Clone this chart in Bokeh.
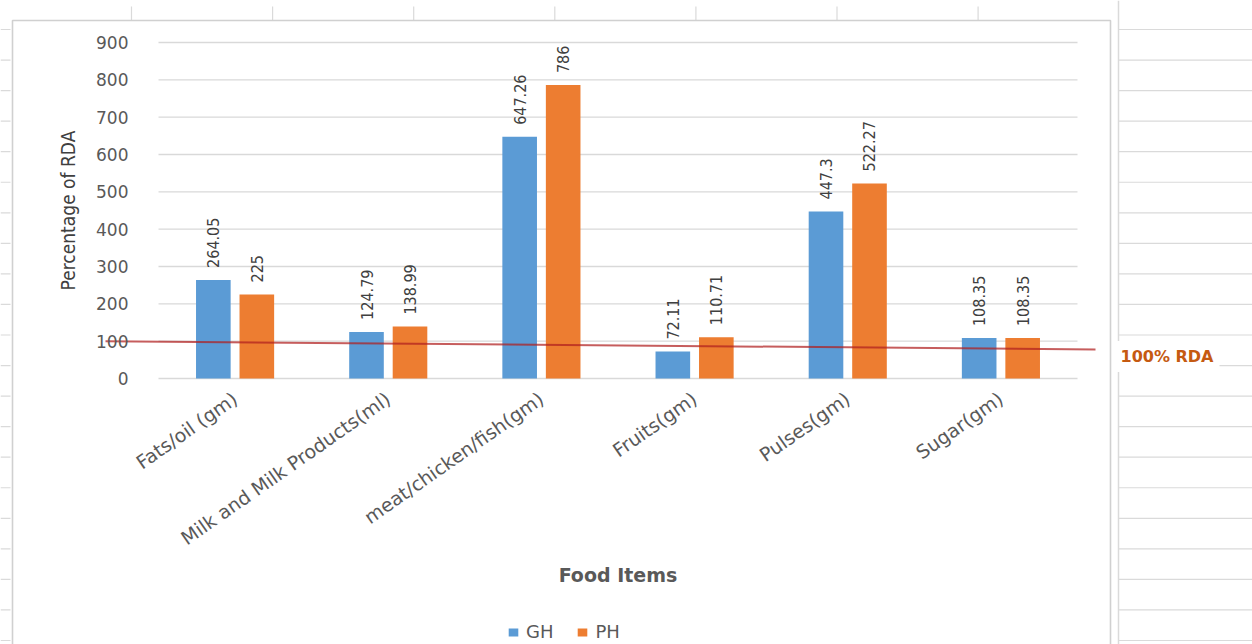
from math import pi

from bokeh.core.properties import value
from bokeh.embed import file_html
from bokeh.models import FixedTicker, Label, Legend, LegendItem, LinearAxis
from bokeh.plotting import figure
from bokeh.resources import INLINE

# ---- data -------------------------------------------------------------
categories = [
    "Fats/oil (gm)",
    "Milk and Milk Products(ml)",
    "meat/chicken/fish(gm)",
    "Fruits(gm)",
    "Pulses(gm)",
    "Sugar(gm)",
]
series_names = ["GH", "PH"]
gh_values = [264.05, 124.79, 647.26, 72.11, 447.3, 108.35]
ph_values = [225, 138.99, 786, 110.71, 522.27, 108.35]
y_ticks = [0, 100, 200, 300, 400, 500, 600, 700, 800, 900]
rda_line = [100, 78]          # reference line level at its left and right ends
rda_label = "100% RDA"
y_title = "Percentage of RDA"
x_title = "Food Items"

# ---- page geometry (pixels) ------------------------------------------
W, H = 1252, 644
PLOT_LEFT, PLOT_RIGHT = 158, 1077
ZERO_PY, TOP_PY = 378, 42
n = len(categories)
CAT_PX = (PLOT_RIGHT - PLOT_LEFT) / n
UNIT_PX = (ZERO_PY - TOP_PY) / y_ticks[-1]


def xd(px):
    return (px - PLOT_LEFT) / CAT_PX


def yd(py):
    return (ZERO_PY - py) / UNIT_PX


BLUE, ORANGE = "#5B9BD5", "#ED7D31"
GRID = "#D9D9D9"
SHEET = "#DADADA"
TICK_TXT = "#595959"
LABEL_TXT = "#404040"
NARROW = "'DejaVu Sans Condensed', 'Liberation Sans', sans-serif"

p = figure(
    width=W, height=H,
    x_range=(xd(0), xd(W)), y_range=(yd(H), yd(0)),
    x_axis_type=None, y_axis_type=None,
    output_backend="svg", toolbar_location=None,
    min_border=0, outline_line_color=None,
    background_fill_color="white", border_fill_color="white",
)

# ---- worksheet cells around the chart --------------------------------
row_py = [29 + 30.55 * i for i in range(21)]
col_px = [131 + 141.1 * i for i in range(7)]
p.segment(x0=[xd(1118)] * len(row_py), x1=[xd(W)] * len(row_py),
          y0=[yd(r) for r in row_py], y1=[yd(r) for r in row_py],
          line_color=SHEET, line_width=1.2)
p.segment(x0=[xd(0)] * len(row_py), x1=[xd(10)] * len(row_py),
          y0=[yd(r) for r in row_py], y1=[yd(r) for r in row_py],
          line_color=SHEET, line_width=1.2)
p.segment(x0=[xd(c) for c in col_px], x1=[xd(c) for c in col_px],
          y0=[yd(6)] * len(col_px), y1=[yd(20)] * len(col_px),
          line_color=SHEET, line_width=1.2)
p.segment(x0=[xd(1118)], x1=[xd(1118)], y0=[yd(0)], y1=[yd(H)],
          line_color=SHEET, line_width=1.5)

# chart area border
p.line(x=[xd(12), xd(12), xd(1110), xd(1110)],
       y=[yd(H), yd(20), yd(20), yd(H)],
       line_color="#D0D0D0", line_width=1.6)

# ---- value gridlines -------------------------------------------------
p.segment(x0=[0] * len(y_ticks), x1=[n] * len(y_ticks),
          y0=y_ticks, y1=y_ticks, line_color=GRID, line_width=1.4)

# ---- bars --------------------------------------------------------------
centers = [i + 0.5 for i in range(n)]
OFFSET, BAR_W = 0.142, 0.226
gh_x = [c - OFFSET for c in centers]
ph_x = [c + OFFSET for c in centers]
r_gh = p.vbar(x=gh_x, top=gh_values, bottom=0, width=BAR_W,
              fill_color=BLUE, line_color=None)
r_ph = p.vbar(x=ph_x, top=ph_values, bottom=0, width=BAR_W,
              fill_color=ORANGE, line_color=None)

# value labels above each bar, reading upwards
for xs, vals in ((gh_x, gh_values), (ph_x, ph_values)):
    p.text(x=xs, y=vals, text=[f"{v:g}" for v in vals],
           angle=pi / 2, text_align="left", text_baseline="middle",
           y_offset=-12,
           text_font=value(NARROW),
           text_font_size="16px", text_color=LABEL_TXT)

# value-axis title, centred on the tick span
p.text(x=[xd(67)], y=[(y_ticks[0] + y_ticks[-1]) / 2], text=[y_title],
       angle=pi / 2, text_align="center", text_baseline="middle",
       text_font=value(NARROW), text_font_size="19px",
       text_color=LABEL_TXT)

# ---- hand-drawn 100% RDA reference line -------------------------------
p.line(x=[xd(105), xd(1095)], y=rda_line,
       line_color="#B01E1E", line_alpha=0.72, line_width=2)

p.add_layout(Label(
    x=xd(1114), y=yd(356), text=rda_label,
    text_font="DejaVu Sans", text_font_style="bold",
    text_font_size="16px", text_color="#C55A11",
    text_baseline="middle", text_align="left",
    background_fill_color="white", padding=6,
))

# ---- axes ------------------------------------------------------------
yaxis = LinearAxis(
    fixed_location=0,
    bounds=(y_ticks[0], y_ticks[-1]),
    ticker=FixedTicker(ticks=y_ticks),
    axis_line_color=None, major_tick_line_color=None,
    minor_tick_line_color=None,
    major_label_standoff=24,
    major_label_text_font="DejaVu Sans",
    major_label_text_font_size="17px",
    major_label_text_color=TICK_TXT,
)
p.add_layout(yaxis, "left")

xaxis = LinearAxis(
    fixed_location=0,
    bounds=(0, n),
    ticker=FixedTicker(ticks=centers),
    major_label_overrides={c: name for c, name in zip(centers, categories)},
    major_label_orientation=0.61,
    axis_line_color=None, major_tick_line_color=None,
    minor_tick_line_color=None,
    major_label_standoff=12,
    major_label_text_font="DejaVu Sans",
    major_label_text_font_size="19px",
    major_label_text_color=TICK_TXT,
    axis_label=x_title,
    axis_label_standoff=3,
    axis_label_text_font="DejaVu Sans",
    axis_label_text_font_size="19px",
    axis_label_text_font_style="bold",
    axis_label_text_color=TICK_TXT,
)
p.add_layout(xaxis, "below")

# ---- legend ------------------------------------------------------------
legend = Legend(
    items=[LegendItem(label=series_names[0], renderers=[r_gh]),
           LegendItem(label=series_names[1], renderers=[r_ph])],
    orientation="horizontal", location=(507, 2),
    glyph_width=12, glyph_height=10, label_standoff=7, spacing=23,
    padding=0, margin=0, border_line_color=None, background_fill_alpha=0,
    label_text_font="DejaVu Sans", label_text_font_size="18px",
    label_text_color=TICK_TXT,
)
p.add_layout(legend)

open("out.html", "w").write(file_html(p, INLINE))
